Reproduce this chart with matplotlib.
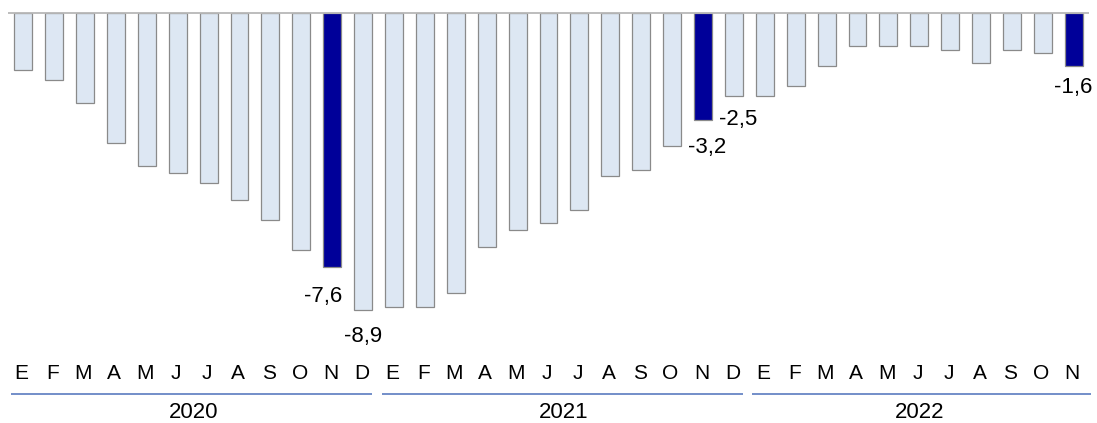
import numpy as np
import matplotlib
matplotlib.use("Agg")
import matplotlib.pyplot as plt

plt.rcParams['font.family'] = ['Liberation Sans', 'DejaVu Sans']

# monthly values, Jan 2020 - Nov 2022
values_2020 = [-1.7, -2.0, -2.7, -3.9, -4.6, -4.8, -5.1, -5.6, -6.2, -7.1, -7.6, -8.9]
values_2021 = [-8.8, -8.8, -8.4, -7.0, -6.5, -6.3, -5.9, -4.9, -4.7, -4.0, -3.2, -2.5]
values_2022 = [-2.5, -2.2, -1.6, -1.0, -1.0, -1.0, -1.1, -1.5, -1.1, -1.2, -1.6]

months = ["E", "F", "M", "A", "M", "J", "J", "A", "S", "O", "N", "D"]
years = ["2020", "2021", "2022"]

# highlighted bars (november) and bars with value labels
highlight = [10, 22, 34]
labelled = [10, 11, 22, 23, 34]
label_shift = [(-9, -29.5), (0, -27), (4, -27.5), (4.5, -23), (-1, -21.5)]  # offset pixels

values = np.array(values_2020 + values_2021 + values_2022)
n = len(values)
x = np.arange(n)

fig = plt.figure(figsize=(10.97, 4.23), dpi=100)
ax = fig.add_axes([0, 0, 1, 1])
ax.set_xlim(-0.75, 34.75)
ax.set_ylim(-12.29, 0.39)
ax.axis("off")

colors = ["#000099" if i in highlight else "#dde7f3" for i in range(n)]
ax.bar(x, values, width=0.58, color=colors, edgecolor="#8a8a8a", linewidth=0.9, zorder=2)
ax.hlines(0, -0.5, 34.5, color="#b8b8b8", linewidth=1.3, zorder=3)

for (i, (dx, dy)) in zip(labelled, label_shift):
    txt = "{:.1f}".format(values[i]).replace(".", ",")
    ax.annotate(txt, (x[i], values[i]), xytext=(dx, dy), textcoords="offset pixels",
                ha="center", va="center", fontsize=16, color="#000000")

# month letters
for i in range(n):
    ax.text(x[i] - 0.05, -10.8, months[i % 12], ha="center", va="center", fontsize=15)

# year brackets
for g, yr in enumerate(years):
    start = 12 * g
    end = min(12 * g + 11, n - 1)
    ax.hlines(-11.42, start - 0.4, end + 0.3 if end < n - 1 else end + 0.55,
              color="#5b7cc0", linewidth=1.2)
    ax.text((start + end) / 2, -11.97, yr, ha="center", va="center", fontsize=16)

fig.savefig("out.png", dpi=100)
